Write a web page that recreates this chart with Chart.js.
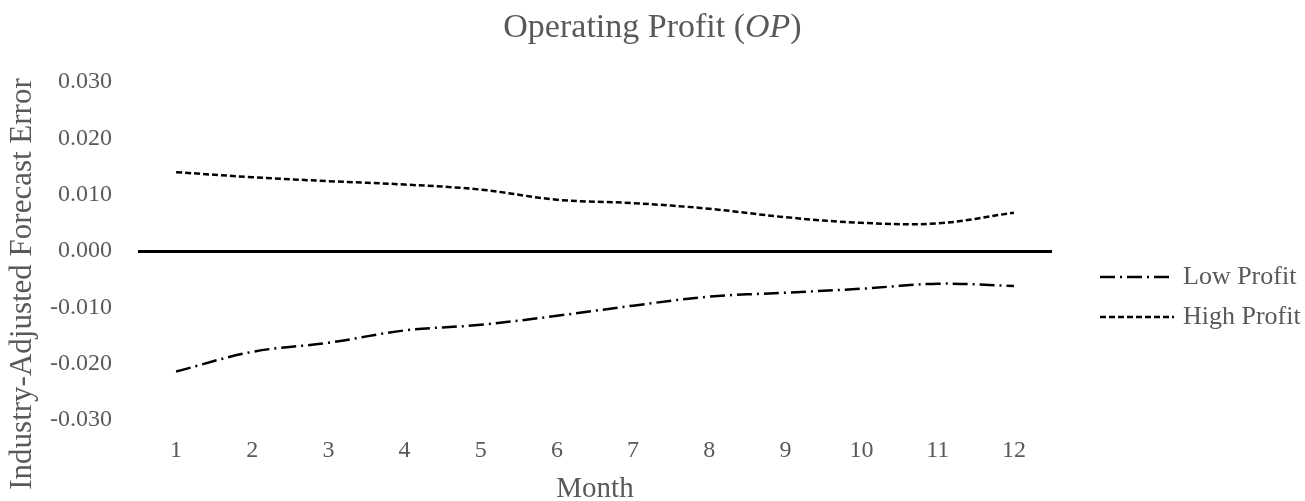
<!DOCTYPE html>
<html>
<head>
<meta charset="utf-8">
<script src="https://cdn.jsdelivr.net/npm/chart.js@4"></script>
<style>
  html, body { margin: 0; padding: 0; background: #fff; }
  #wrap { width: 1305px; height: 501px; position: relative; }
</style>
</head>
<body>
<div id="wrap"><canvas id="chart"></canvas></div>
<script>
const months = ['1', '2', '3', '4', '5', '6', '7', '8', '9', '10', '11', '12'];
const lowProfit = [-0.0214, -0.0179, -0.0163, -0.0141, -0.0131, -0.0115, -0.0097, -0.0081, -0.0074, -0.0067, -0.0058, -0.0062];
const highProfit = [0.0140, 0.0131, 0.0124, 0.0118, 0.0109, 0.0091, 0.0085, 0.0075, 0.0060, 0.0050, 0.0049, 0.0068];
const yTicks = [0.03, 0.02, 0.01, 0, -0.01, -0.02, -0.03];

const textGrey = '#595959';
const serif = "'Liberation Serif', 'Times New Roman', serif";

// title with the italic abbreviation, plus the rotated value-axis title
const titles = {
  id: 'titles',
  afterDraw(chart) {
    const { ctx, width } = chart;
    ctx.save();
    ctx.fillStyle = textGrey;
    ctx.textBaseline = 'middle';

    const parts = [
      { text: 'Operating Profit (', font: '34px ' + serif },
      { text: 'OP', font: 'italic 34px ' + serif },
      { text: ')', font: '34px ' + serif },
    ];
    let total = 0;
    parts.forEach(p => { ctx.font = p.font; p.w = ctx.measureText(p.text).width; total += p.w; });
    let x = width / 2 - total / 2;
    ctx.textAlign = 'left';
    parts.forEach(p => { ctx.font = p.font; ctx.fillText(p.text, x, 28); x += p.w; });

    ctx.translate(23, 284);
    ctx.rotate(-Math.PI / 2);
    ctx.textAlign = 'center';
    ctx.font = '31px ' + serif;
    ctx.fillText('Industry-Adjusted Forecast Error', 0, 0);
    ctx.restore();
  }
};

// legend to the right of the plot: line sample + label
const sideLegend = {
  id: 'sideLegend',
  afterDraw(chart) {
    const { ctx, chartArea } = chart;
    const x0 = chartArea.right + 48;
    ctx.save();
    chart.data.datasets.forEach((ds, i) => {
      const y = chartArea.top + 195 + i * 40;
      ctx.strokeStyle = ds.borderColor;
      ctx.lineWidth = ds.borderWidth;
      ctx.setLineDash(ds.borderDash);
      ctx.beginPath();
      ctx.moveTo(x0, y);
      ctx.lineTo(x0 + 74, y);
      ctx.stroke();
      ctx.setLineDash([]);
      ctx.fillStyle = textGrey;
      ctx.font = '26px ' + serif;
      ctx.textBaseline = 'middle';
      ctx.fillText(ds.label, x0 + 83, y);
    });
    ctx.restore();
  }
};

new Chart(document.getElementById('chart'), {
  type: 'line',
  data: {
    labels: months,
    datasets: [
      {
        label: 'Low Profit',
        data: lowProfit,
        borderColor: '#000',
        borderWidth: 2.5,
        borderDash: [15, 5, 2, 5],
        pointRadius: 0,
        tension: 0.35,
        fill: false,
      },
      {
        label: 'High Profit',
        data: highProfit,
        borderColor: '#000',
        borderWidth: 2.5,
        borderDash: [6, 3],
        pointRadius: 0,
        tension: 0.35,
        fill: false,
      },
    ],
  },
  options: {
    responsive: true,
    maintainAspectRatio: false,
    animation: false,
    layout: { padding: { top: 82, right: 253, bottom: 0, left: 24 } },
    plugins: {
      legend: { display: false },
      tooltip: { enabled: false },
    },
    scales: {
      x: {
        offset: true,
        grid: { display: false, drawTicks: false },
        border: { display: false },
        ticks: { color: textGrey, font: { family: serif, size: 24, lineHeight: 1 }, padding: 19 },
        title: {
          display: true,
          text: 'Month',
          color: textGrey,
          font: { family: serif, size: 29, lineHeight: 1 },
          padding: { top: -7.5, bottom: -2.5 },
        },
      },
      y: {
        min: -0.03,
        max: 0.03,
        afterBuildTicks: (axis) => { axis.ticks = yTicks.map(v => ({ value: v })); },
        grid: {
          drawTicks: false,
          color: (c) => (c.tick && c.tick.value === 0 ? '#000' : 'rgba(0,0,0,0)'),
          lineWidth: (c) => (c.tick && c.tick.value === 0 ? 3 : 0),
        },
        border: { display: false },
        ticks: {
          color: textGrey,
          font: { family: serif, size: 24 },
          padding: 26,
          callback: (v) => Number(v).toFixed(3),
        },
      },
    },
  },
  plugins: [titles, sideLegend],
});
</script>
</body>
</html>
